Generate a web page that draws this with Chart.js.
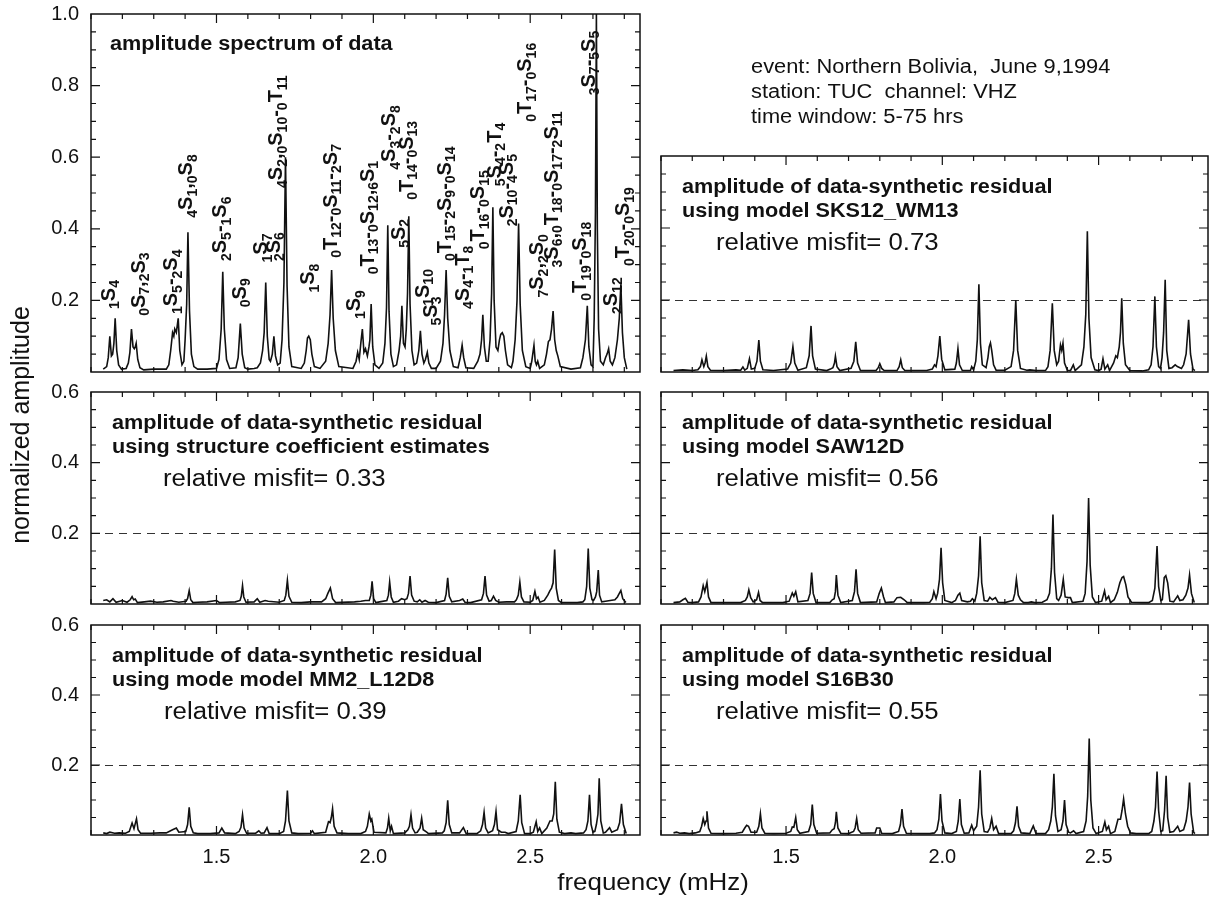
<!DOCTYPE html>
<html><head><meta charset="utf-8">
<script src="https://cdn.jsdelivr.net/npm/chart.js@4.4.1/dist/chart.umd.min.js"></script>
<style>
html,body{margin:0;padding:0;background:#fff;}
#wrap{position:relative;width:1211px;height:902px;overflow:hidden;background:#fff;}
#wrap canvas{position:absolute;left:0;top:0;}
</style></head>
<body><div id="wrap"></div>
<script>
const X_MIN = 1.10, X_MAX = 2.85;
const xTickLabels = [1.5, 2.0, 2.5];
const xMinorTicks = [1.1,1.2,1.3,1.4,1.5,1.6,1.7,1.8,1.9,2.0,2.1,2.2,2.3,2.4,2.5,2.6,2.7,2.8];
const yTickLabelsData = [0.2,0.4,0.6,0.8,1.0];
const yTickLabelsResidual = [0.2,0.4,0.6];
const yMinorTicks = [0.05,0.1,0.15,0.2,0.25,0.3,0.35,0.4,0.45,0.5,0.55,0.6,0.65,0.7,0.75,0.8,0.85,0.9,0.95];
const residualLevel = 0.2;

// amplitude spectrum of data [frequency mHz, normalized amplitude]
const specPoints = [[1.139,0.008],[1.150,0.015],[1.155,0.040],[1.160,0.100],[1.165,0.045],[1.169,0.050],[1.173,0.080],[1.177,0.150],[1.182,0.060],[1.188,0.020],[1.197,0.008],[1.212,0.010],[1.219,0.025],[1.224,0.055],[1.229,0.120],[1.234,0.070],[1.238,0.065],[1.241,0.070],[1.244,0.080],[1.249,0.035],[1.256,0.012],[1.268,0.006],[1.300,0.008],[1.340,0.008],[1.348,0.020],[1.354,0.060],[1.360,0.110],[1.364,0.100],[1.367,0.120],[1.372,0.110],[1.378,0.150],[1.383,0.060],[1.390,0.020],[1.396,0.030],[1.400,0.090],[1.405,0.190],[1.409,0.390],[1.414,0.170],[1.420,0.050],[1.428,0.015],[1.440,0.008],[1.470,0.008],[1.500,0.010],[1.508,0.035],[1.515,0.120],[1.520,0.280],[1.525,0.120],[1.532,0.035],[1.542,0.010],[1.562,0.012],[1.569,0.040],[1.576,0.135],[1.582,0.050],[1.590,0.012],[1.600,0.008],[1.620,0.010],[1.630,0.012],[1.640,0.025],[1.647,0.060],[1.652,0.110],[1.657,0.250],[1.662,0.100],[1.668,0.035],[1.672,0.030],[1.678,0.050],[1.683,0.100],[1.688,0.045],[1.695,0.020],[1.703,0.025],[1.709,0.090],[1.715,0.250],[1.720,0.600],[1.725,0.240],[1.731,0.070],[1.740,0.015],[1.770,0.010],[1.780,0.025],[1.786,0.060],[1.790,0.095],[1.794,0.100],[1.799,0.090],[1.804,0.050],[1.812,0.015],[1.830,0.010],[1.848,0.030],[1.856,0.080],[1.862,0.160],[1.867,0.285],[1.872,0.150],[1.879,0.060],[1.890,0.015],[1.935,0.010],[1.945,0.030],[1.950,0.055],[1.955,0.035],[1.960,0.080],[1.965,0.120],[1.970,0.055],[1.975,0.065],[1.981,0.045],[1.986,0.070],[1.989,0.090],[1.993,0.190],[1.998,0.070],[2.005,0.020],[2.018,0.010],[2.030,0.025],[2.037,0.080],[2.042,0.180],[2.046,0.410],[2.050,0.170],[2.056,0.050],[2.064,0.015],[2.074,0.020],[2.082,0.060],[2.087,0.100],[2.091,0.185],[2.096,0.080],[2.101,0.070],[2.105,0.120],[2.109,0.220],[2.113,0.435],[2.117,0.190],[2.123,0.060],[2.130,0.020],[2.138,0.025],[2.145,0.060],[2.150,0.115],[2.155,0.050],[2.161,0.025],[2.166,0.035],[2.172,0.055],[2.177,0.025],[2.185,0.010],[2.200,0.010],[2.214,0.030],[2.222,0.080],[2.227,0.160],[2.232,0.285],[2.237,0.150],[2.244,0.060],[2.255,0.015],[2.270,0.012],[2.277,0.040],[2.283,0.075],[2.288,0.040],[2.295,0.012],[2.320,0.010],[2.333,0.030],[2.340,0.050],[2.345,0.090],[2.349,0.160],[2.354,0.070],[2.360,0.030],[2.366,0.030],[2.372,0.090],[2.377,0.220],[2.381,0.460],[2.385,0.200],[2.391,0.070],[2.397,0.060],[2.402,0.090],[2.406,0.105],[2.411,0.110],[2.416,0.100],[2.421,0.060],[2.428,0.020],[2.440,0.012],[2.445,0.030],[2.452,0.090],[2.458,0.200],[2.463,0.415],[2.468,0.190],[2.475,0.060],[2.486,0.015],[2.500,0.010],[2.505,0.030],[2.512,0.075],[2.516,0.030],[2.520,0.020],[2.524,0.030],[2.530,0.010],[2.545,0.020],[2.552,0.050],[2.558,0.085],[2.563,0.090],[2.568,0.120],[2.573,0.170],[2.578,0.090],[2.583,0.060],[2.588,0.045],[2.596,0.015],[2.630,0.008],[2.660,0.012],[2.668,0.040],[2.676,0.090],[2.682,0.185],[2.687,0.070],[2.694,0.020],[2.700,0.015],[2.704,0.150],[2.708,0.450],[2.711,1.000],[2.714,0.400],[2.718,0.120],[2.724,0.030],[2.733,0.020],[2.740,0.040],[2.745,0.050],[2.750,0.065],[2.755,0.030],[2.762,0.020],[2.770,0.040],[2.778,0.090],[2.784,0.150],[2.789,0.245],[2.794,0.110],[2.800,0.040],[2.808,0.008]];

// residual using model SKS12_WM13
const sksPoints = [[1.140,0.004],[1.170,0.006],[1.200,0.004],[1.218,0.006],[1.226,0.015],[1.231,0.034],[1.237,0.015],[1.241,0.025],[1.245,0.044],[1.250,0.015],[1.258,0.005],[1.300,0.004],[1.340,0.006],[1.355,0.005],[1.362,0.014],[1.368,0.005],[1.376,0.010],[1.383,0.037],[1.389,0.008],[1.400,0.010],[1.407,0.030],[1.413,0.089],[1.418,0.030],[1.426,0.006],[1.460,0.004],[1.505,0.008],[1.515,0.025],[1.522,0.070],[1.528,0.025],[1.538,0.005],[1.565,0.012],[1.574,0.045],[1.580,0.128],[1.585,0.045],[1.594,0.008],[1.630,0.004],[1.642,0.008],[1.650,0.012],[1.655,0.025],[1.658,0.044],[1.663,0.015],[1.672,0.004],[1.708,0.010],[1.717,0.030],[1.723,0.084],[1.729,0.025],[1.738,0.004],[1.788,0.004],[1.795,0.012],[1.800,0.023],[1.806,0.010],[1.814,0.004],[1.855,0.004],[1.862,0.015],[1.867,0.034],[1.872,0.012],[1.880,0.004],[1.950,0.004],[1.968,0.008],[1.975,0.020],[1.980,0.015],[1.986,0.045],[1.992,0.100],[1.998,0.035],[2.008,0.006],[2.040,0.008],[2.045,0.025],[2.050,0.065],[2.055,0.020],[2.064,0.004],[2.090,0.004],[2.094,0.015],[2.100,0.006],[2.107,0.030],[2.112,0.090],[2.117,0.244],[2.122,0.080],[2.128,0.020],[2.140,0.012],[2.146,0.040],[2.150,0.070],[2.154,0.081],[2.158,0.060],[2.164,0.020],[2.172,0.005],[2.200,0.005],[2.220,0.015],[2.228,0.060],[2.235,0.200],[2.241,0.060],[2.250,0.010],[2.270,0.005],[2.280,0.006],[2.300,0.004],[2.330,0.004],[2.338,0.015],[2.345,0.060],[2.352,0.191],[2.358,0.060],[2.366,0.020],[2.372,0.030],[2.378,0.075],[2.382,0.060],[2.386,0.080],[2.391,0.025],[2.400,0.005],[2.410,0.004],[2.419,0.020],[2.425,0.004],[2.445,0.020],[2.453,0.070],[2.459,0.160],[2.464,0.391],[2.469,0.150],[2.476,0.040],[2.488,0.006],[2.500,0.004],[2.508,0.008],[2.514,0.037],[2.520,0.008],[2.529,0.020],[2.535,0.004],[2.548,0.025],[2.555,0.045],[2.560,0.040],[2.566,0.070],[2.570,0.110],[2.574,0.205],[2.579,0.080],[2.586,0.020],[2.600,0.004],[2.640,0.003],[2.660,0.006],[2.668,0.020],[2.674,0.070],[2.680,0.210],[2.685,0.070],[2.692,0.015],[2.698,0.010],[2.703,0.040],[2.708,0.110],[2.713,0.256],[2.718,0.060],[2.725,0.010],[2.735,0.012],[2.745,0.020],[2.752,0.015],[2.765,0.010],[2.772,0.020],[2.780,0.050],[2.788,0.145],[2.794,0.050],[2.802,0.008],[2.808,0.004]];

// residual using structure coefficient estimates
const structPoints = [[1.139,0.010],[1.150,0.012],[1.160,0.006],[1.170,0.015],[1.180,0.005],[1.200,0.010],[1.215,0.005],[1.225,0.012],[1.231,0.021],[1.236,0.012],[1.241,0.014],[1.248,0.004],[1.270,0.006],[1.290,0.008],[1.310,0.005],[1.330,0.006],[1.355,0.010],[1.362,0.008],[1.380,0.005],[1.403,0.008],[1.408,0.016],[1.413,0.038],[1.418,0.012],[1.425,0.004],[1.440,0.005],[1.470,0.006],[1.500,0.010],[1.510,0.004],[1.530,0.005],[1.560,0.006],[1.575,0.010],[1.579,0.022],[1.583,0.052],[1.587,0.020],[1.594,0.005],[1.620,0.006],[1.630,0.015],[1.638,0.005],[1.655,0.010],[1.665,0.008],[1.700,0.005],[1.716,0.010],[1.721,0.025],[1.726,0.067],[1.731,0.022],[1.740,0.005],[1.770,0.004],[1.800,0.006],[1.835,0.006],[1.848,0.015],[1.855,0.030],[1.863,0.045],[1.870,0.015],[1.880,0.004],[1.940,0.006],[1.960,0.008],[1.975,0.010],[1.987,0.010],[1.992,0.025],[1.996,0.064],[2.001,0.015],[2.008,0.004],[2.020,0.006],[2.043,0.010],[2.048,0.025],[2.052,0.062],[2.057,0.020],[2.064,0.005],[2.080,0.008],[2.090,0.015],[2.100,0.012],[2.107,0.015],[2.112,0.030],[2.117,0.079],[2.122,0.025],[2.130,0.008],[2.140,0.006],[2.148,0.012],[2.155,0.005],[2.165,0.010],[2.175,0.005],[2.200,0.004],[2.227,0.010],[2.232,0.028],[2.237,0.074],[2.242,0.022],[2.250,0.006],[2.275,0.010],[2.285,0.014],[2.292,0.005],[2.310,0.004],[2.345,0.012],[2.351,0.030],[2.356,0.079],[2.361,0.025],[2.369,0.008],[2.376,0.010],[2.383,0.022],[2.390,0.010],[2.400,0.005],[2.425,0.006],[2.450,0.006],[2.456,0.012],[2.462,0.025],[2.467,0.062],[2.472,0.020],[2.480,0.006],[2.500,0.005],[2.508,0.010],[2.515,0.036],[2.520,0.015],[2.525,0.020],[2.531,0.005],[2.545,0.010],[2.556,0.025],[2.563,0.038],[2.568,0.045],[2.573,0.060],[2.578,0.154],[2.583,0.045],[2.590,0.010],[2.600,0.004],[2.650,0.004],[2.668,0.006],[2.674,0.012],[2.680,0.050],[2.685,0.157],[2.690,0.045],[2.697,0.012],[2.702,0.010],[2.708,0.020],[2.712,0.035],[2.717,0.096],[2.721,0.025],[2.728,0.006],[2.740,0.008],[2.755,0.010],[2.770,0.012],[2.778,0.020],[2.784,0.030],[2.789,0.038],[2.795,0.015],[2.805,0.004]];

// residual using model SAW12D
const sawPoints = [[1.140,0.004],[1.160,0.006],[1.170,0.012],[1.178,0.016],[1.186,0.005],[1.200,0.004],[1.220,0.006],[1.228,0.020],[1.235,0.052],[1.240,0.035],[1.247,0.061],[1.252,0.020],[1.260,0.004],[1.300,0.004],[1.340,0.004],[1.355,0.004],[1.370,0.010],[1.376,0.020],[1.381,0.040],[1.387,0.018],[1.395,0.006],[1.406,0.012],[1.412,0.033],[1.417,0.010],[1.425,0.004],[1.450,0.004],[1.490,0.004],[1.510,0.008],[1.520,0.031],[1.525,0.022],[1.531,0.035],[1.538,0.006],[1.570,0.010],[1.577,0.030],[1.582,0.089],[1.587,0.030],[1.596,0.004],[1.640,0.004],[1.648,0.012],[1.654,0.015],[1.658,0.035],[1.661,0.082],[1.666,0.025],[1.675,0.004],[1.712,0.010],[1.719,0.035],[1.724,0.098],[1.729,0.030],[1.738,0.004],[1.790,0.006],[1.798,0.030],[1.805,0.045],[1.812,0.020],[1.818,0.004],[1.845,0.006],[1.855,0.018],[1.867,0.019],[1.878,0.012],[1.888,0.004],[1.940,0.004],[1.960,0.005],[1.968,0.015],[1.973,0.035],[1.980,0.015],[1.985,0.030],[1.991,0.070],[1.996,0.159],[2.001,0.060],[2.008,0.010],[2.030,0.004],[2.042,0.010],[2.050,0.025],[2.056,0.031],[2.062,0.010],[2.080,0.006],[2.090,0.008],[2.096,0.015],[2.104,0.008],[2.110,0.030],[2.116,0.080],[2.121,0.192],[2.126,0.060],[2.134,0.010],[2.145,0.008],[2.152,0.019],[2.160,0.012],[2.170,0.018],[2.178,0.005],[2.200,0.004],[2.226,0.010],[2.232,0.030],[2.237,0.070],[2.243,0.025],[2.250,0.012],[2.260,0.004],[2.275,0.004],[2.285,0.006],[2.295,0.004],[2.320,0.005],[2.335,0.012],[2.343,0.030],[2.349,0.100],[2.354,0.253],[2.359,0.090],[2.366,0.015],[2.372,0.010],[2.380,0.025],[2.387,0.070],[2.393,0.020],[2.402,0.018],[2.410,0.018],[2.416,0.004],[2.450,0.008],[2.457,0.030],[2.463,0.120],[2.468,0.300],[2.473,0.110],[2.480,0.020],[2.490,0.004],[2.510,0.008],[2.519,0.037],[2.524,0.012],[2.532,0.022],[2.538,0.004],[2.550,0.012],[2.560,0.033],[2.568,0.060],[2.575,0.075],[2.580,0.078],[2.587,0.055],[2.594,0.020],[2.605,0.005],[2.640,0.004],[2.660,0.004],[2.672,0.010],[2.680,0.045],[2.687,0.164],[2.692,0.050],[2.699,0.010],[2.704,0.012],[2.710,0.075],[2.715,0.080],[2.721,0.060],[2.728,0.008],[2.740,0.006],[2.753,0.023],[2.760,0.010],[2.770,0.012],[2.779,0.025],[2.786,0.045],[2.791,0.082],[2.797,0.030],[2.806,0.004]];

// residual using mode model MM2_L12D8
const mm2Points = [[1.139,0.006],[1.150,0.004],[1.160,0.008],[1.175,0.005],[1.190,0.006],[1.210,0.005],[1.222,0.010],[1.231,0.034],[1.237,0.018],[1.245,0.046],[1.250,0.015],[1.258,0.005],[1.290,0.005],[1.320,0.006],[1.340,0.006],[1.360,0.015],[1.372,0.020],[1.380,0.008],[1.402,0.010],[1.408,0.030],[1.413,0.079],[1.418,0.025],[1.426,0.006],[1.440,0.004],[1.480,0.004],[1.508,0.006],[1.517,0.020],[1.526,0.006],[1.560,0.004],[1.572,0.010],[1.578,0.022],[1.583,0.058],[1.588,0.020],[1.596,0.005],[1.625,0.005],[1.635,0.012],[1.642,0.005],[1.652,0.006],[1.661,0.021],[1.668,0.004],[1.700,0.004],[1.714,0.010],[1.720,0.040],[1.726,0.127],[1.731,0.040],[1.740,0.006],[1.760,0.004],[1.800,0.005],[1.806,0.012],[1.812,0.004],[1.848,0.008],[1.857,0.038],[1.862,0.035],[1.866,0.050],[1.870,0.075],[1.875,0.025],[1.884,0.006],[1.920,0.004],[1.960,0.004],[1.975,0.010],[1.981,0.025],[1.987,0.060],[1.992,0.040],[1.995,0.045],[2.002,0.008],[2.040,0.006],[2.045,0.020],[2.049,0.048],[2.054,0.012],[2.058,0.025],[2.064,0.004],[2.100,0.006],[2.110,0.015],[2.115,0.025],[2.120,0.058],[2.125,0.020],[2.133,0.006],[2.140,0.008],[2.149,0.020],[2.154,0.048],[2.159,0.015],[2.170,0.008],[2.176,0.004],[2.220,0.006],[2.226,0.012],[2.232,0.035],[2.237,0.099],[2.242,0.030],[2.250,0.006],[2.275,0.006],[2.287,0.021],[2.296,0.004],[2.330,0.004],[2.342,0.012],[2.348,0.030],[2.353,0.065],[2.358,0.020],[2.366,0.006],[2.380,0.012],[2.386,0.030],[2.391,0.067],[2.396,0.015],[2.408,0.008],[2.420,0.008],[2.430,0.004],[2.455,0.010],[2.462,0.040],[2.468,0.115],[2.473,0.035],[2.482,0.004],[2.500,0.004],[2.510,0.008],[2.519,0.038],[2.524,0.010],[2.530,0.020],[2.537,0.004],[2.553,0.020],[2.563,0.040],[2.570,0.040],[2.575,0.060],[2.580,0.152],[2.585,0.045],[2.593,0.008],[2.610,0.004],[2.630,0.006],[2.645,0.004],[2.670,0.006],[2.678,0.015],[2.684,0.040],[2.689,0.115],[2.694,0.030],[2.700,0.008],[2.706,0.010],[2.711,0.030],[2.716,0.060],[2.720,0.162],[2.725,0.040],[2.733,0.006],[2.740,0.008],[2.753,0.021],[2.760,0.008],[2.778,0.015],[2.785,0.035],[2.791,0.089],[2.797,0.030],[2.806,0.004]];

// residual using model S16B30
const s16Points = [[1.140,0.006],[1.150,0.008],[1.160,0.005],[1.175,0.006],[1.190,0.004],[1.210,0.006],[1.224,0.010],[1.230,0.025],[1.235,0.047],[1.240,0.030],[1.244,0.040],[1.247,0.068],[1.252,0.020],[1.260,0.005],[1.300,0.004],[1.340,0.005],[1.360,0.008],[1.368,0.020],[1.374,0.028],[1.380,0.025],[1.388,0.008],[1.406,0.008],[1.413,0.025],[1.418,0.061],[1.423,0.020],[1.432,0.005],[1.460,0.004],[1.500,0.005],[1.515,0.010],[1.520,0.023],[1.525,0.022],[1.531,0.050],[1.536,0.015],[1.544,0.005],[1.572,0.010],[1.579,0.030],[1.584,0.087],[1.589,0.030],[1.598,0.005],[1.640,0.006],[1.648,0.015],[1.654,0.018],[1.658,0.035],[1.661,0.066],[1.666,0.020],[1.675,0.005],[1.700,0.004],[1.716,0.010],[1.721,0.020],[1.726,0.047],[1.731,0.015],[1.740,0.005],[1.785,0.006],[1.790,0.020],[1.800,0.020],[1.806,0.005],[1.840,0.004],[1.860,0.010],[1.866,0.030],[1.871,0.074],[1.876,0.025],[1.885,0.005],[1.930,0.004],[1.960,0.004],[1.975,0.006],[1.983,0.015],[1.989,0.045],[1.994,0.117],[1.999,0.040],[2.008,0.006],[2.030,0.004],[2.045,0.010],[2.051,0.040],[2.056,0.103],[2.061,0.030],[2.070,0.005],[2.085,0.006],[2.094,0.028],[2.100,0.012],[2.110,0.025],[2.116,0.080],[2.121,0.185],[2.126,0.060],[2.134,0.010],[2.145,0.008],[2.152,0.020],[2.158,0.047],[2.164,0.015],[2.172,0.025],[2.180,0.004],[2.220,0.004],[2.228,0.012],[2.234,0.035],[2.239,0.082],[2.244,0.025],[2.252,0.006],[2.280,0.004],[2.291,0.026],[2.300,0.004],[2.330,0.004],[2.340,0.015],[2.347,0.040],[2.352,0.080],[2.357,0.175],[2.362,0.055],[2.370,0.010],[2.380,0.015],[2.386,0.040],[2.391,0.100],[2.396,0.030],[2.404,0.008],[2.410,0.006],[2.420,0.012],[2.428,0.004],[2.452,0.010],[2.460,0.040],[2.465,0.110],[2.470,0.276],[2.475,0.100],[2.482,0.020],[2.492,0.004],[2.512,0.010],[2.520,0.037],[2.525,0.015],[2.532,0.025],[2.538,0.004],[2.552,0.010],[2.562,0.045],[2.570,0.045],[2.575,0.070],[2.580,0.103],[2.586,0.060],[2.593,0.025],[2.602,0.006],[2.620,0.004],[2.640,0.004],[2.660,0.004],[2.670,0.010],[2.677,0.040],[2.682,0.080],[2.687,0.181],[2.692,0.070],[2.699,0.010],[2.705,0.012],[2.711,0.070],[2.716,0.169],[2.721,0.050],[2.728,0.008],[2.740,0.010],[2.753,0.025],[2.760,0.010],[2.772,0.015],[2.780,0.040],[2.786,0.080],[2.791,0.150],[2.796,0.060],[2.804,0.008],[2.808,0.004]];

// mode identification labels in the data panel (anchor: frequency, amplitude at label start)
const modeLabelText = ['₁S₄','₀S₇,₂S₃','₁S₅-₂S₄','₄S₁,₀S₈','₂S₅-₁S₆','₀S₉','₁S₇','₂S₆','₄S₂,₀S₁₀-₀T₁₁','₁S₈','₀T₁₂-₀S₁₁-₂S₇','₁S₉','₀T₁₃-₀S₁₂,₆S₁','₄S₃-₂S₈','₅S₂','₀T₁₄-₀S₁₃','₁S₁₀','₅S₃','₀T₁₅-₂S₉-₀S₁₄','₄S₄-₁T₈','₀T₁₆-₀S₁₅','₅S₄-₂T₄','₂S₁₀-₄S₅','₀T₁₇-₀S₁₆','₇S₂,₂S₀','₃S₆,₀T₁₈-₀S₁₇-₂S₁₁','₀T₁₉-₀S₁₈','₃S₇-₅S₅','₂S₁₂','₀T₂₀-₀S₁₉'];
const modeLabelFreq = [1.161,1.257,1.361,1.409,1.517,1.579,1.648,1.687,1.696,1.798,1.869,1.944,1.987,2.056,2.085,2.111,2.163,2.189,2.232,2.289,2.339,2.391,2.430,2.489,2.528,2.574,2.665,2.691,2.763,2.802];
const modeLabelAmp = [0.176,0.157,0.162,0.431,0.310,0.181,0.306,0.310,0.514,0.222,0.319,0.148,0.273,0.565,0.347,0.481,0.185,0.130,0.310,0.176,0.343,0.519,0.407,0.699,0.208,0.292,0.199,0.773,0.162,0.296];

const eventLines = ['event: Northern Bolivia,  June 9,1994','station: TUC  channel: VHZ','time window: 5-75 hrs'];
const line1 = 'amplitude of data-synthetic residual';

const W = 1211, H = 902;
const FONT = '"Liberation Sans", Arial, Helvetica, sans-serif';

const panels = [
  {key:'tl', left:91, right:640, top:14, bottom:372, yMax:1.0, points:specPoints, yLabels:true, xLabels:false, dashed:false,
   lines:['amplitude spectrum of data'], misfit:null, misfitDx:0, modes:true, global:true},
  {key:'tr', left:661, right:1208, top:156, bottom:372, yMax:0.6, points:sksPoints, yLabels:false, xLabels:false, dashed:true,
   lines:[line1,'using model SKS12_WM13'], misfit:'relative misfit= 0.73', misfitDx:55},
  {key:'ml', left:91, right:640, top:392, bottom:604, yMax:0.6, points:structPoints, yLabels:true, xLabels:false, dashed:true,
   lines:[line1,'using structure coefficient estimates'], misfit:'relative misfit= 0.33', misfitDx:72},
  {key:'mr', left:661, right:1208, top:392, bottom:604, yMax:0.6, points:sawPoints, yLabels:false, xLabels:false, dashed:true,
   lines:[line1,'using model SAW12D'], misfit:'relative misfit= 0.56', misfitDx:55},
  {key:'bl', left:91, right:640, top:625, bottom:835, yMax:0.6, points:mm2Points, yLabels:true, xLabels:true, dashed:true,
   lines:[line1,'using mode model MM2_L12D8'], misfit:'relative misfit= 0.39', misfitDx:73},
  {key:'br', left:661, right:1208, top:625, bottom:835, yMax:0.6, points:s16Points, yLabels:false, xLabels:true, dashed:true,
   lines:[line1,'using model S16B30'], misfit:'relative misfit= 0.55', misfitDx:55}
];

function stretchText(ctx, str, x, y, font, sx, align) {
  ctx.save();
  ctx.font = font;
  ctx.fillStyle = '#111';
  ctx.textBaseline = 'middle';
  ctx.textAlign = 'left';
  ctx.translate(x, y);
  ctx.scale(sx, 1);
  let dx = 0;
  if (align === 'center') dx = -ctx.measureText(str).width / 2;
  ctx.fillText(str, dx, 0);
  ctx.restore();
}

const SUB = '₀₁₂₃₄₅₆₇₈₉';
function drawModeLabel(ctx, str, px, py) {
  ctx.save();
  ctx.translate(px, py);
  ctx.rotate(-Math.PI / 2);
  ctx.fillStyle = '#111';
  ctx.textBaseline = 'middle';
  ctx.textAlign = 'left';
  let cx = 0, run = '', runSub = null;
  const flush = () => {
    if (!run) return;
    ctx.font = runSub ? 'bold 14px ' + FONT : 'bold 20px ' + FONT;
    ctx.fillText(run, cx, runSub ? 5 : -1);
    cx += ctx.measureText(run).width;
    run = '';
  };
  for (const ch of str) {
    const si = SUB.indexOf(ch);
    const isSub = si >= 0;
    if (runSub !== null && isSub !== runSub) flush();
    runSub = isSub;
    run += isSub ? String(si) : ch;
  }
  flush();
  ctx.restore();
}

function makeDeco(p) {
  return {
    id: 'deco_' + p.key,
    beforeDatasetsDraw(chart) {
      if (!p.dashed) return;
      const {ctx, chartArea: a, scales: {y}} = chart;
      const py = Math.round(y.getPixelForValue(residualLevel)) + 0.5;
      ctx.save();
      ctx.strokeStyle = '#333';
      ctx.lineWidth = 1;
      ctx.setLineDash([8, 6]);
      ctx.beginPath(); ctx.moveTo(a.left, py); ctx.lineTo(a.right, py); ctx.stroke();
      ctx.restore();
    },
    afterDatasetsDraw(chart) {
      const {ctx, chartArea: a, scales: {x, y}} = chart;
      ctx.save();
      ctx.strokeStyle = '#111';
      ctx.lineWidth = 1.5;
      ctx.strokeRect(a.left, a.top, a.right - a.left, a.bottom - a.top);
      ctx.lineWidth = 1.2;
      ctx.beginPath();
      xMinorTicks.forEach(v => {
        const px = x.getPixelForValue(v);
        const L = xTickLabels.some(m => Math.abs(m - v) < 1e-6) ? 9 : 5;
        ctx.moveTo(px, a.bottom); ctx.lineTo(px, a.bottom - L);
        ctx.moveTo(px, a.top); ctx.lineTo(px, a.top + L);
      });
      yMinorTicks.filter(v => v < p.yMax - 1e-6).forEach(v => {
        const py = y.getPixelForValue(v);
        const major = Math.abs(v / 0.2 - Math.round(v / 0.2)) < 1e-6;
        const L = major ? 9 : 5;
        ctx.moveTo(a.left, py); ctx.lineTo(a.left + L, py);
        ctx.moveTo(a.right, py); ctx.lineTo(a.right - L, py);
      });
      ctx.stroke();
      ctx.restore();

      const bold = 'bold 19.5px ' + FONT;
      if (p.key === 'tl') {
        stretchText(ctx, p.lines[0], a.left + 19, a.top + 31, bold, 1.11);
      } else {
        stretchText(ctx, p.lines[0], a.left + 21, a.top + 32, bold, 1.11);
        stretchText(ctx, p.lines[1], a.left + 21, a.top + 56, bold, 1.11);
        stretchText(ctx, p.misfit, a.left + p.misfitDx, a.top + 88, '23px ' + FONT, 1.12);
      }
      if (p.modes) {
        modeLabelText.forEach((t, i) => {
          drawModeLabel(ctx, t, x.getPixelForValue(modeLabelFreq[i]), y.getPixelForValue(modeLabelAmp[i]));
        });
      }
      if (p.global) {
        eventLines.forEach((t, i) => stretchText(ctx, t, 751, 68 + i * 25, '19.5px ' + FONT, 1.12));
        stretchText(ctx, 'frequency (mHz)', 653, 883, '24px ' + FONT, 1.08, 'center');
        ctx.save();
        ctx.translate(22, 425);
        ctx.rotate(-Math.PI / 2);
        ctx.font = '25px ' + FONT;
        ctx.fillStyle = '#111';
        ctx.textAlign = 'center';
        ctx.textBaseline = 'middle';
        ctx.fillText('normalized amplitude', 0, 0);
        ctx.restore();
      }
    }
  };
}

const wrap = document.getElementById('wrap');
panels.forEach(p => {
  const cv = document.createElement('canvas');
  cv.width = W; cv.height = H;
  cv.style.width = W + 'px'; cv.style.height = H + 'px';
  wrap.appendChild(cv);
  const yLabelVals = p.yMax > 0.7 ? yTickLabelsData : yTickLabelsResidual;
  new Chart(cv.getContext('2d'), {
    type: 'line',
    data: {
      datasets: [{
        data: p.points.map(q => ({x: q[0], y: q[1]})),
        borderColor: '#111',
        borderWidth: 1.6,
        pointRadius: 0,
        tension: 0,
        fill: false
      }]
    },
    options: {
      responsive: false,
      devicePixelRatio: 1,
      animation: false,
      events: [],
      layout: {padding: {
        left: p.yLabels ? 0 : p.left,
        right: W - p.right,
        top: p.top,
        bottom: p.xLabels ? 0 : H - p.bottom
      }},
      plugins: {legend: {display: false}, tooltip: {enabled: false}, title: {display: false}},
      scales: {
        x: {
          type: 'linear', min: X_MIN, max: X_MAX,
          display: p.xLabels,
          position: 'bottom',
          grid: {display: false, drawTicks: true, tickLength: 10},
          border: {display: false},
          afterBuildTicks: s => { s.ticks = xTickLabels.map(v => ({value: v})); },
          afterFit: s => { if (p.xLabels) s.height = H - p.bottom; },
          ticks: {autoSkip: false, maxRotation: 0, padding: 0, color: '#111',
                  font: {family: FONT, size: 20}, callback: v => Number(v).toFixed(1)}
        },
        y: {
          type: 'linear', min: 0, max: p.yMax,
          display: p.yLabels,
          position: 'left',
          grid: {display: false, drawTicks: true, tickLength: 12},
          border: {display: false},
          afterBuildTicks: s => { s.ticks = yLabelVals.map(v => ({value: v})); },
          afterFit: s => { if (p.yLabels) s.width = p.left; },
          ticks: {autoSkip: false, padding: 0, color: '#111',
                  font: {family: FONT, size: 20}, callback: v => Number(v).toFixed(1)}
        }
      }
    },
    plugins: [makeDeco(p)]
  });
});
</script>
</body></html>
